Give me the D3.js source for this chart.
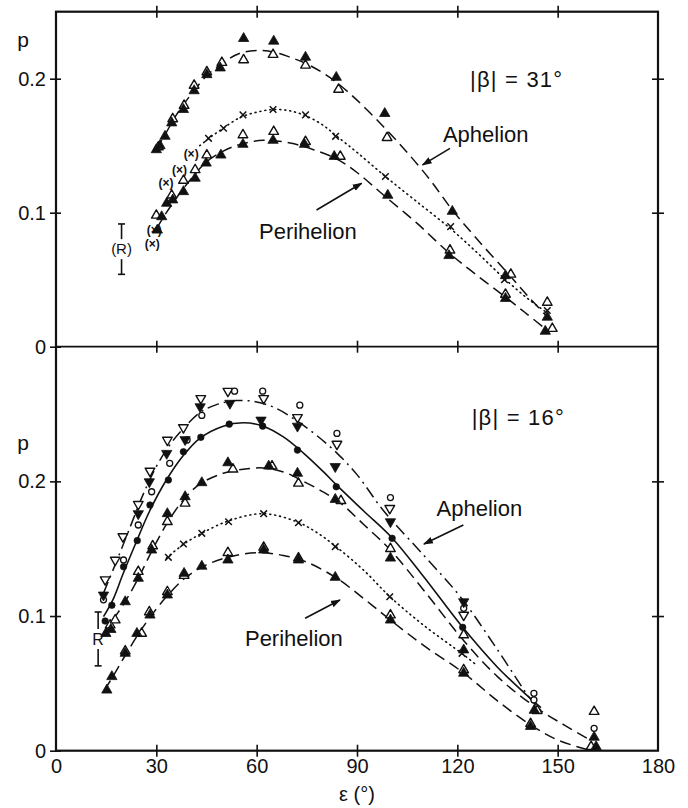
<!DOCTYPE html>
<html lang="en">
<body style="margin:0;background:#fff">
<script src="https://d3js.org/d3.v7.min.js"></script>
<script>
// values: [elongation in deg, p]
var xTickLabels = [0, 30, 60, 90, 120, 150, 180];
var xTicksInner = [30, 60, 90, 120, 150];
var yTickLabels = [0, 0.1, 0.2];
var yTicksRight = [0.1, 0.2];

// ---- |beta| = 31 deg ----
var topAphFilled = [[30,0.147],[31.1,0.150],[32.6,0.157],[34.6,0.167],[38.1,0.177],[41.3,0.191],[45.1,0.203],[49.1,0.208],[56.1,0.230],[65.1,0.228],[74.6,0.216],[83.8,0.201],[98.3,0.174],[118.5,0.101],[134.4,0.053],[146.9,0.022]];
var topAphOpen = [[30.6,0.149],[34.9,0.170],[38.3,0.180],[41.3,0.195],[45.1,0.205],[49.6,0.212],[56.1,0.214],[64.9,0.218],[74.6,0.210],[84.5,0.192],[99,0.156],[136,0.054],[146.9,0.033]];
var topX = [[45.6,0.1555],[50.1,0.163],[55.9,0.173],[64.9,0.177],[74.6,0.173],[83.6,0.157],[98.5,0.127],[118,0.0896],[134.1,0.050],[146.9,0.027]];
var topXParen = [[30,0.077],[30.6,0.087],[34.1,0.122],[38.1,0.132],[41.6,0.144]];
var topPerFilled = [[30.3,0.087],[31.6,0.097],[33.1,0.107],[34.9,0.1095],[38.1,0.1157],[41.6,0.1257],[44.9,0.137],[49.3,0.143],[55.9,0.151],[64.9,0.154],[74.3,0.151],[83.2,0.142],[99.2,0.113],[117.5,0.068],[134.4,0.036],[146.3,0.0115]];
var topPerOpen = [[30,0.098],[34.6,0.113],[38.1,0.124],[41.6,0.132],[45.1,0.143],[55.9,0.158],[65.1,0.1605],[74.6,0.153],[85,0.142],[117.8,0.072],[134.4,0.039],[148.4,0.0135]];
var topAphCurve = [[30,0.147],[33,0.160],[36,0.173],[40,0.187],[45,0.202],[50,0.212],[55,0.219],[60,0.221],[65,0.220],[70,0.216],[75,0.211],[80,0.204],[84,0.197],[90,0.184],[98,0.164],[105,0.145],[112,0.124],[118.5,0.102],[126,0.080],[135,0.055],[141,0.038],[147,0.022]];
var topDotCurve = [[43,0.150],[46,0.156],[50,0.163],[55,0.171],[60,0.175],[65,0.177],[70,0.176],[75,0.172],[80,0.165],[84,0.157],[90,0.145],[98.5,0.127],[108,0.108],[118,0.088],[126,0.070],[134,0.051],[141,0.036],[147,0.025]];
var topPerCurve = [[30,0.088],[33,0.100],[36,0.111],[40,0.124],[45,0.138],[50,0.146],[55,0.151],[62,0.154],[70,0.152],[77,0.147],[84,0.140],[90,0.130],[98,0.113],[108,0.092],[117.5,0.070],[126,0.053],[134.4,0.037],[141,0.024],[147,0.012]];
var topErrBar = [19.6, 0.054, 0.0916];

// ---- |beta| = 16 deg ----
var botDownOpen = [[14.7,0.127],[17.7,0.1416],[20,0.159],[24.6,0.183],[28.1,0.2077],[33.3,0.2307],[38.1,0.240],[43.3,0.2616],[51.4,0.267],[62.1,0.2616],[72.2,0.2475],[84,0.2277],[99.8,0.180],[121.9,0.1007]];
var botDownFilled = [[14.2,0.1156],[24.6,0.176],[27.9,0.1997],[33.1,0.2208],[38.6,0.231],[43.1,0.2554],[52,0.258],[61.3,0.2455],[72.2,0.241],[83.5,0.211],[100,0.170],[121.9,0.1106]];
var botCircle = [[14.2,0.112],[20.2,0.1416],[24.6,0.1676],[28.6,0.1923],[34,0.2134],[39.2,0.2307],[43.6,0.249],[53.4,0.267],[61.8,0.267],[72.9,0.2566],[84,0.2356],[100,0.188],[121.9,0.1057],[142.9,0.0426],[142.9,0.0377],[160.9,0.0166]];
var botDot = [[14.7,0.0963],[16.7,0.108],[20.2,0.1366],[24.3,0.156],[28.1,0.1824],[33.6,0.201],[38.1,0.222],[43.3,0.2327],[51.8,0.2425],[61.8,0.241],[72.2,0.2232],[83.8,0.196],[100.5,0.1577],[121.6,0.0916]];
var botMidFilled = [[14.9,0.087],[16.4,0.090],[20.7,0.1106],[24.6,0.128],[28.6,0.149],[33.3,0.176],[38.6,0.1886],[43.6,0.199],[51.4,0.2138],[63.6,0.2113],[72.2,0.206],[83.5,0.1866],[100,0.143],[121.9,0.0748],[143,0.030],[160.9,0.010]];
var botMidOpen = [[16.2,0.0933],[17.7,0.097],[24.6,0.133],[28.9,0.152],[33.3,0.170],[38.6,0.1837],[52.9,0.209],[64.6,0.2113],[72.5,0.1985],[85.2,0.1856],[100,0.150],[121.9,0.0859],[143.9,0.0297],[160.9,0.029]];
var botX = [[33.6,0.1436],[38.1,0.1535],[43.6,0.1614],[51.6,0.170],[62.1,0.176],[72.5,0.1693],[83.5,0.1515],[99.8,0.1143],[121.4,0.0723]];
var botPerFilled = [[15.2,0.045],[16.7,0.055],[20.7,0.0723],[24.2,0.0871],[28.1,0.1007],[33.3,0.1156],[38.3,0.1317],[43.6,0.137],[51.4,0.1416],[62.1,0.149],[72.5,0.1416],[83.5,0.1287],[100,0.097],[121.9,0.0575],[141.9,0.018],[161.5,0.003]];
var botPerOpen = [[20.7,0.074],[25.6,0.0871],[27.9,0.103],[33.3,0.118],[38.3,0.130],[51.4,0.147],[62.1,0.151],[72.5,0.143],[100,0.1007],[121.9,0.060],[141.9,0.020],[160,0.003]];
var botDashDotCurve = [[14.2,0.117],[18,0.140],[22,0.165],[26,0.190],[30,0.211],[34,0.227],[38,0.239],[43,0.251],[48,0.257],[54,0.260],[60,0.259],[66,0.254],[72,0.245],[78,0.234],[84,0.221],[90,0.205],[98,0.178],[110,0.145],[121,0.114],[132,0.075],[142,0.038],[145,0.030]];
var botSolidCurve = [[14.2,0.0995],[17,0.112],[20,0.131],[24,0.155],[28,0.178],[33,0.201],[38,0.219],[43,0.232],[50,0.241],[56,0.2435],[62,0.241],[68,0.233],[74,0.221],[80,0.207],[84,0.197],[92,0.178],[100.5,0.158],[110,0.129],[121.6,0.0916],[132,0.062],[140,0.043],[145,0.032]];
var botMidCurve = [[14.2,0.087],[17,0.097],[21,0.112],[25,0.130],[29,0.150],[33,0.168],[38,0.186],[43,0.198],[50,0.206],[56,0.209],[62,0.210],[68,0.207],[74,0.200],[80,0.192],[85,0.184],[92,0.168],[100,0.149],[110,0.119],[122,0.0815],[132,0.055],[143,0.033],[152,0.019],[159,0.009]];
var botDotCurve = [[33,0.143],[38,0.153],[44,0.162],[52,0.171],[62,0.176],[72,0.170],[78,0.162],[84,0.151],[92,0.134],[100,0.114],[110,0.093],[122,0.071],[126,0.063]];
var botPerCurve = [[14.5,0.045],[17,0.055],[21,0.072],[25,0.088],[29,0.102],[34,0.117],[39,0.129],[45,0.138],[52,0.144],[60,0.147],[68,0.145],[75,0.140],[84,0.128],[92,0.113],[100,0.097],[110,0.078],[122,0.0575],[132,0.037],[142,0.019],[150,0.008],[160,0.0]];
var botErrBar = [12.6, 0.063, 0.103];

var ink = "#111";
var font = "'Liberation Sans', Arial, sans-serif";

var svg = d3.select("body").append("svg")
    .attr("width", 688)
    .attr("height", 808)
    .style("font-family", font);

var x = d3.scaleLinear().domain([0, 180]).range([56, 658]);
var yTop = d3.scaleLinear().domain([0, 0.25]).range([346.7, 11.7]);
var yBot = d3.scaleLinear().domain([0, 0.3]).range([750.7, 346.7]);

svg.append("defs").append("marker")
    .attr("id", "arrow")
    .attr("viewBox", "0 0 10 10")
    .attr("refX", 9).attr("refY", 5)
    .attr("markerWidth", 10).attr("markerHeight", 10)
    .attr("markerUnits", "userSpaceOnUse")
    .attr("orient", "auto")
    .append("path")
    .attr("d", "M0,1.5 L10,5 L0,8.5 Z")
    .attr("fill", ink);

// frame
svg.append("rect")
    .attr("x", x(0)).attr("y", yTop(0.25))
    .attr("width", x(180) - x(0)).attr("height", yBot(0) - yTop(0.25))
    .attr("fill", "none").attr("stroke", ink).attr("stroke-width", 2.2);
svg.append("line")
    .attr("x1", x(0)).attr("x2", x(180))
    .attr("y1", yTop(0)).attr("y2", yTop(0))
    .attr("stroke", ink).attr("stroke-width", 1.8);

function crossTicks(axis, t, a, b, horiz) {
    var g = svg.append("g").attr("transform", t).call(axis);
    g.select(".domain").remove();
    g.selectAll(".tick line").attr("stroke", ink).attr("stroke-width", 1.6)
        .attr(horiz ? "y1" : "x1", a).attr(horiz ? "y2" : "x2", b);
    g.selectAll(".tick text").remove();
}

function panel(y, ytop) {
    // left labels + ticks
    var gl = svg.append("g").attr("transform", "translate(" + x(0) + ",0)")
        .call(d3.axisLeft(y).tickValues(yTickLabels).tickSize(6).tickPadding(4)
            .tickFormat(function (d) { return d === 0 ? "0" : d3.format(".1f")(d); }));
    gl.select(".domain").remove();
    gl.selectAll(".tick line").attr("stroke", ink).attr("stroke-width", 1.6).attr("x1", 5);
    gl.selectAll(".tick text").attr("font-size", 20).attr("fill", ink).attr("font-family", font);
    crossTicks(d3.axisRight(y).tickValues(yTicksRight).tickFormat(""), "translate(" + x(180) + ",0)", -6, 6, false);
    crossTicks(d3.axisBottom(x).tickValues(xTicksInner).tickFormat(""), "translate(0," + y(ytop) + ")", -6, 6, true);
}
panel(yTop, 0.25);
panel(yBot, 0.3);
crossTicks(d3.axisBottom(x).tickValues(xTicksInner).tickFormat(""), "translate(0," + yBot(0) + ")", -6, 6, true);

var gx = svg.append("g").attr("transform", "translate(0," + yBot(0) + ")")
    .call(d3.axisBottom(x).tickValues(xTickLabels).tickSize(0).tickPadding(8));
gx.select(".domain").remove();
gx.selectAll(".tick text").attr("font-size", 20).attr("fill", ink).attr("font-family", font);

svg.append("text").attr("x", x(90)).attr("y", 801)
    .attr("text-anchor", "middle").attr("font-size", 20).attr("fill", ink)
    .text("ε (°)");

// drawing helpers
function curve(y, pts, dash, w) {
    svg.append("path").datum(pts)
        .attr("d", d3.line().x(function (d) { return x(d[0]); }).y(function (d) { return y(d[1]); })
            .curve(d3.curveCatmullRom.alpha(0.5)))
        .attr("fill", "none").attr("stroke", ink)
        .attr("stroke-width", w || 1.5)
        .attr("stroke-dasharray", dash)
        .attr("stroke-linecap", dash === "1,4" ? "round" : "butt");
}
function tri(y, pts, filled, down) {
    svg.append("g").selectAll("path").data(pts).enter().append("path")
        .attr("d", d3.symbol(d3.symbolTriangle, filled ? 46 : 40))
        .attr("transform", function (d) {
            return "translate(" + x(d[0]) + "," + y(d[1]) + ")" + (down ? " rotate(180)" : "");
        })
        .attr("fill", filled ? ink : "#fff")
        .attr("stroke", ink).attr("stroke-width", filled ? 0.8 : 1.4)
        .attr("stroke-linejoin", "round");
}
function cross(y, pts) {
    svg.append("g").selectAll("path").data(pts).enter().append("path")
        .attr("d", "M-3.3,-3.3L3.3,3.3M-3.3,3.3L3.3,-3.3")
        .attr("transform", function (d) { return "translate(" + x(d[0]) + "," + y(d[1]) + ")"; })
        .attr("stroke", ink).attr("stroke-width", 1.5);
}
function circ(y, pts, filled) {
    svg.append("g").selectAll("circle").data(pts).enter().append("circle")
        .attr("cx", function (d) { return x(d[0]); })
        .attr("cy", function (d) { return y(d[1]); })
        .attr("r", filled ? 3.3 : 3)
        .attr("fill", filled ? ink : "#fff")
        .attr("stroke", ink).attr("stroke-width", filled ? 0.6 : 1.3);
}
function errBar(y, e, label, fs) {
    var cx = x(e[0]), y0 = y(e[1]), y1 = y(e[2]), mid = (y0 + y1) / 2;
    var g = svg.append("g").attr("stroke", ink).attr("stroke-width", 1.6);
    g.append("line").attr("x1", cx).attr("x2", cx).attr("y1", y1).attr("y2", mid - 10);
    g.append("line").attr("x1", cx).attr("x2", cx).attr("y1", mid + 10).attr("y2", y0);
    g.append("line").attr("x1", cx - 3.5).attr("x2", cx + 3.5).attr("y1", y1).attr("y2", y1);
    g.append("line").attr("x1", cx - 3.5).attr("x2", cx + 3.5).attr("y1", y0).attr("y2", y0);
    svg.append("text").attr("x", cx).attr("y", mid).attr("dy", "0.35em")
        .attr("text-anchor", "middle").attr("font-size", fs).attr("fill", ink).text(label);
}
function label(y, t, xd, pd, fs, ls) {
    svg.append("text").attr("x", x(xd)).attr("y", y(pd))
        .attr("font-size", fs).attr("fill", ink)
        .attr("letter-spacing", ls || 0).text(t);
}
function arrow(y, a, b) {
    svg.append("line")
        .attr("x1", x(a[0])).attr("y1", y(a[1]))
        .attr("x2", x(b[0])).attr("y2", y(b[1]))
        .attr("stroke", ink).attr("stroke-width", 1.6)
        .attr("marker-end", "url(#arrow)");
}

var longDash = "11,6", dotted = "1,4", dashDot = "12,5,2,5";

// ---- top panel ----
curve(yTop, topAphCurve, longDash);
curve(yTop, topDotCurve, dotted, 1.6);
curve(yTop, topPerCurve, longDash);
tri(yTop, topAphOpen, false);
tri(yTop, topPerOpen, false);
cross(yTop, topX);
tri(yTop, topAphFilled, true);
tri(yTop, topPerFilled, true);
svg.append("g").selectAll("text").data(topXParen).enter().append("text")
    .attr("x", function (d) { return x(d[0]) - 4; })
    .attr("y", function (d) { return yTop(d[1]); })
    .attr("dy", "0.35em").attr("text-anchor", "middle")
    .attr("font-size", 12).attr("font-weight", "bold").attr("fill", ink)
    .text("(×)");
errBar(yTop, topErrBar, "(R)", 15);

label(yTop, "p", -11.6, 0.224, 21);
label(yTop, "|β| = 31°", 123.8, 0.1938, 22, 1.2);
label(yTop, "Aphelion", 115.7, 0.1528, 22);
arrow(yTop, [117.8, 0.148], [109.6, 0.1357]);
label(yTop, "Perihelion", 60.7, 0.0807, 22);
arrow(yTop, [77.9, 0.102], [91.4, 0.122]);

// ---- bottom panel ----
curve(yBot, botDashDotCurve, dashDot);
curve(yBot, botSolidCurve, null, 1.6);
curve(yBot, botMidCurve, longDash);
curve(yBot, botDotCurve, dotted, 1.6);
curve(yBot, botPerCurve, longDash);
tri(yBot, botDownOpen, false, true);
circ(yBot, botCircle, false);
tri(yBot, botMidOpen, false);
tri(yBot, botPerOpen, false);
cross(yBot, botX);
tri(yBot, botDownFilled, true, true);
circ(yBot, botDot, true);
tri(yBot, botMidFilled, true);
tri(yBot, botPerFilled, true);
errBar(yBot, botErrBar, "R", 16);

label(yBot, "p", -11.6, 0.2232, 21);
label(yBot, "|β| = 16°", 124.3, 0.2418, 22, 1.2);
label(yBot, "Aphelion", 113.8, 0.1742, 22);
arrow(yBot, [121.8, 0.1676], [110.0, 0.1535]);
label(yBot, "Perihelion", 56.5, 0.0777, 22);
arrow(yBot, [74.5, 0.0983], [84.9, 0.1119]);
</script>
</body>
</html>
